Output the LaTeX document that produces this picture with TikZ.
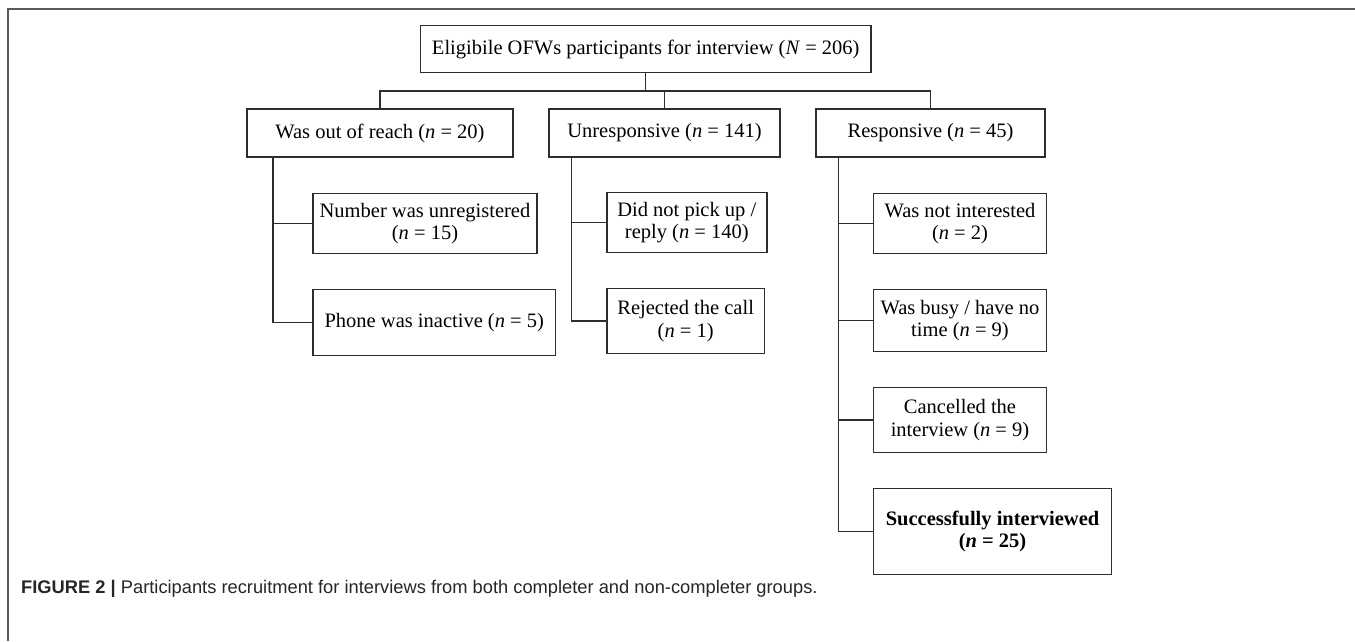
\documentclass[tikz,border=0pt]{standalone}
\usepackage{fontspec}
\setmainfont{Liberation Serif}
\newfontfamily\capfont{Liberation Sans}

\definecolor{linegray}{HTML}{2E2E2E}
\definecolor{framegray}{HTML}{5A5A5A}

\tikzset{
  box/.style={draw=linegray,line width=1.4pt,align=center,inner sep=0pt,
    font=\fontsize{20.5}{22.5}\selectfont,text=black},
  link/.style={draw=linegray,line width=1.4pt},
}

\begin{document}
\begin{tikzpicture}[x=1pt,y=-1pt]
      \useasboundingbox (0,0) rectangle (1355,641);
      \draw[framegray,line width=1.5pt] (1355,9) -- (8,9) -- (8,641);

      \node[box,minimum width=450.5pt,minimum height=47pt] (1) at (645.75,49.2) {Eligibile OFWs participants for interview (\textit{N} = 206)};
      \node[box,minimum width=266pt,minimum height=48pt] (2) at (380,133) {Was out of reach (\textit{n} = 20)};
      \node[box,minimum width=231pt,minimum height=48pt] (3) at (664.5,133) {Unresponsive (\textit{n} = 141)};
      \node[box,minimum width=229pt,minimum height=48pt] (4) at (930.5,133) {Responsive (\textit{n} = 45)};

      \node[box,minimum width=224pt,minimum height=60pt] (5) at (425,223.7) {Number was unregistered\\(\textit{n} = 15)};
      \node[box,minimum width=242.5pt,minimum height=65.6pt] (6) at (434.25,322.5) {Phone was inactive (\textit{n} = 5)};
      \node[box,minimum width=160pt,minimum height=60pt] (7) at (686.8,222.7) {Did not pick up /\\reply (\textit{n} = 140)};
      \node[box,minimum width=157.7pt,minimum height=64.6pt] (8) at (685.65,321) {Rejected the call\\(\textit{n} = 1)};

      \node[box,minimum width=173.4pt,minimum height=60pt] (9) at (960,223.7) {Was not interested\\(\textit{n} = 2)};
      \node[box,minimum width=173.4pt,minimum height=62pt] (10) at (960,320.7) {Was busy / have no\\time (\textit{n} = 9)};
      \node[box,minimum width=173.4pt,minimum height=64.6pt] (11) at (960,420) {Cancelled the\\interview (\textit{n} = 9)};
      \node[box,minimum width=238.4pt,minimum height=86pt,font=\fontsize{20.5}{22.5}\selectfont\bfseries] (12) at (992.5,531.7) {Successfully interviewed\\(\textit{n} = 25)};

      \node[anchor=base west,inner sep=0pt,font=\capfont\fontsize{18.3}{20}\selectfont,text=black!85] (13) at (21,593) {\textbf{FIGURE 2 |} Participants recruitment for interviews from both completer and non-completer groups.};

      \coordinate (b) at (645.75,91);
      \draw[link] (1) -- (b);
      \draw[link] (b) -| (2);
      \draw[link] (b) -| (3);
      \draw[link] (b) -| (4);

      \draw[link] ([xshift=26.5pt]2.south west) |- (5);
      \draw[link] ([xshift=26.5pt]2.south west) |- (6);
      \draw[link] ([xshift=23.4pt]3.south west) |- (7);
      \draw[link] ([xshift=23.4pt]3.south west) |- (8);
      \draw[link] ([xshift=23.3pt]4.south west) |- (9);
      \draw[link] ([xshift=23.3pt]4.south west) |- (10);
      \draw[link] ([xshift=23.3pt]4.south west) |- (11);
      \draw[link] ([xshift=23.3pt]4.south west) |- (12);
    \end{tikzpicture}
\end{document}
